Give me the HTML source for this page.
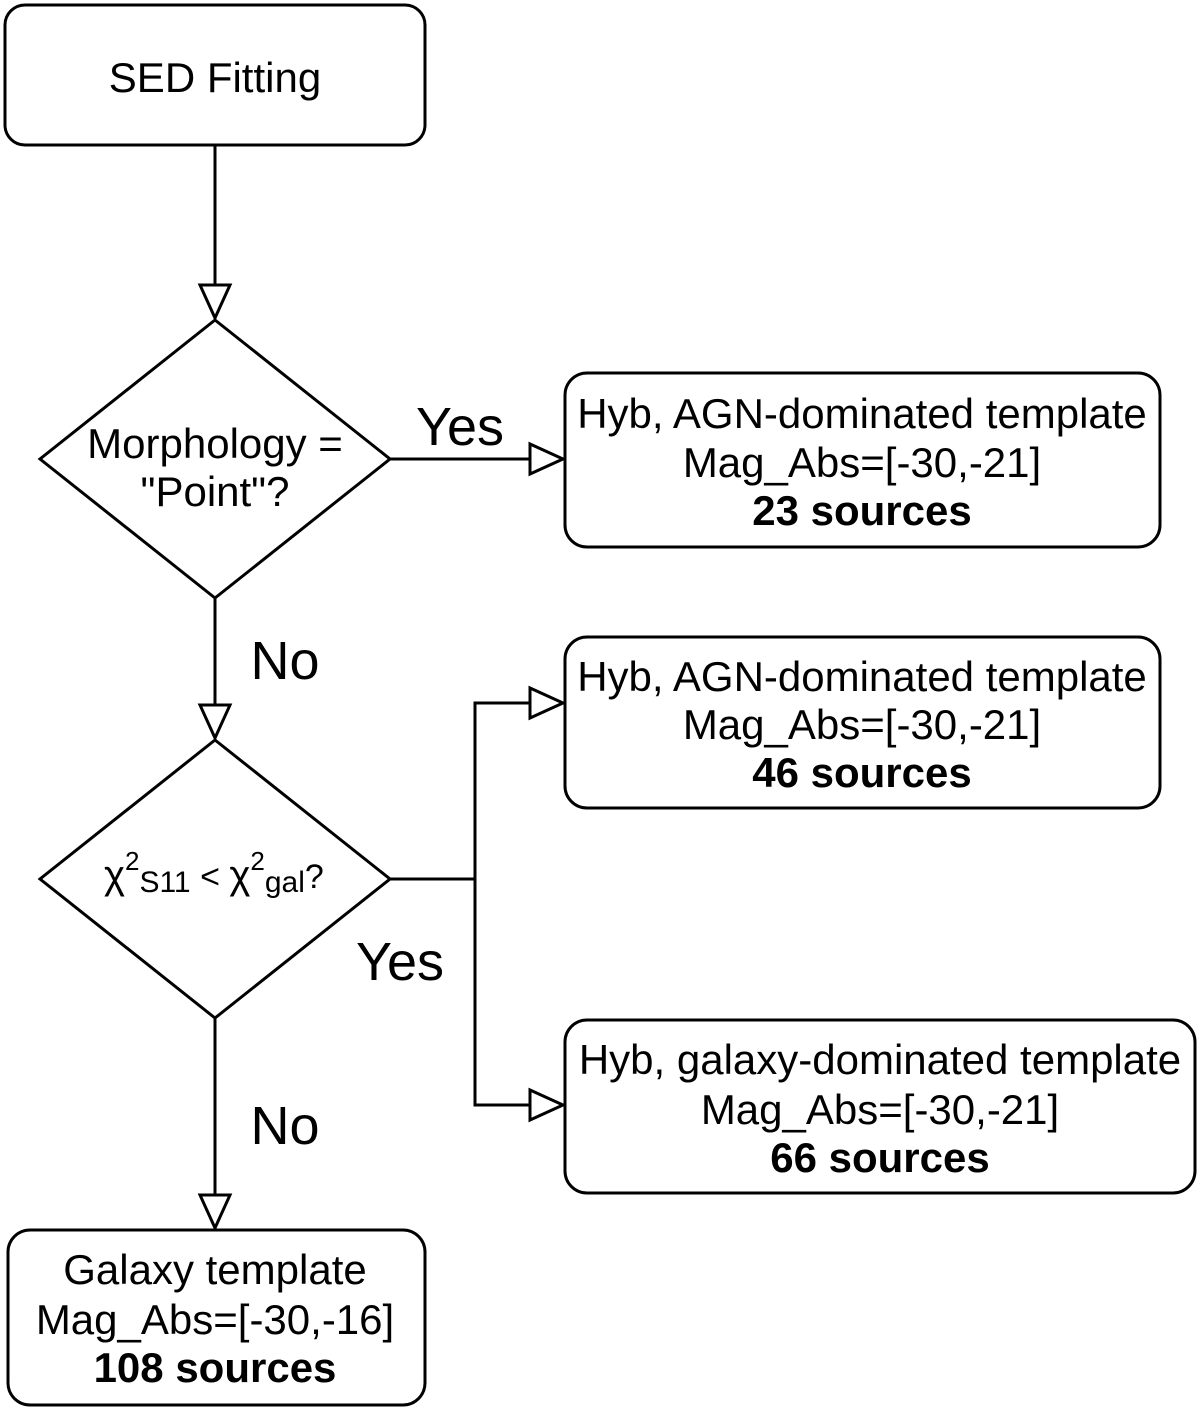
<!DOCTYPE html>
<html><head><meta charset="utf-8"><style>
html,body{margin:0;padding:0;background:#fff}
svg{display:block}
text{font-family:"Liberation Sans",sans-serif;fill:#000}
</style></head><body>
<svg width="1200" height="1413" viewBox="0 0 1200 1413" xmlns="http://www.w3.org/2000/svg">
<g fill="none" stroke="#000" stroke-width="3">
<rect x="5" y="5" width="420" height="140" rx="20"/>
<rect x="565" y="373" width="595" height="174" rx="22"/>
<rect x="565" y="637" width="595" height="171" rx="22"/>
<rect x="565" y="1020" width="630" height="173" rx="22"/>
<rect x="8" y="1230" width="417" height="175" rx="22"/>
<polygon points="215,320 390,459 215,598 40,459"/>
<polygon points="215,740 390,879 215,1018 40,879"/>
<line x1="215" y1="145" x2="215" y2="285"/>
<line x1="390" y1="459" x2="530" y2="459"/>
<line x1="215" y1="598" x2="215" y2="705"/>
<line x1="390" y1="879" x2="475" y2="879"/>
<polyline points="530,703 475,703 475,1105 530,1105"/>
<line x1="215" y1="1018" x2="215" y2="1195"/>
<polygon points="200,285 230,285 215,318"/>
<polygon points="200,705 230,705 215,738"/>
<polygon points="200,1195 230,1195 215,1228"/>
<polygon points="530,444 530,474 563,459"/>
<polygon points="530,688 530,718 563,703"/>
<polygon points="530,1090 530,1120 563,1105"/>
</g>
<g font-size="42" text-anchor="middle">
<text x="215" y="92">SED Fitting</text>
<text x="215" y="458">Morphology =</text>
<text x="215" y="506">"Point"?</text>
<text x="862" y="428">Hyb, AGN-dominated template</text>
<text x="862" y="477">Mag_Abs=[-30,-21]</text>
<text x="862" y="525" font-weight="bold">23 sources</text>
<text x="862" y="691">Hyb, AGN-dominated template</text>
<text x="862" y="739">Mag_Abs=[-30,-21]</text>
<text x="862" y="787" font-weight="bold">46 sources</text>
<text x="880" y="1074">Hyb, galaxy-dominated template</text>
<text x="880" y="1124">Mag_Abs=[-30,-21]</text>
<text x="880" y="1172" font-weight="bold">66 sources</text>
<text x="215" y="1284">Galaxy template</text>
<text x="215" y="1334">Mag_Abs=[-30,-16]</text>
<text x="215" y="1382" font-weight="bold">108 sources</text>
</g>
<g font-size="54" text-anchor="middle">
<text x="460" y="445">Yes</text>
<text x="285" y="679">No</text>
<text x="400" y="980">Yes</text>
<text x="285" y="1144">No</text>
</g>
<text x="104" y="888" font-size="40">χ<tspan font-size="26" dy="-18">2</tspan><tspan font-size="30" dy="22">S11</tspan><tspan font-size="34" dy="-4"> &lt; </tspan><tspan>χ</tspan><tspan font-size="26" dy="-18">2</tspan><tspan font-size="30" dy="22">gal</tspan><tspan font-size="34" dy="-4">?</tspan></text>
</svg>
</body></html>
